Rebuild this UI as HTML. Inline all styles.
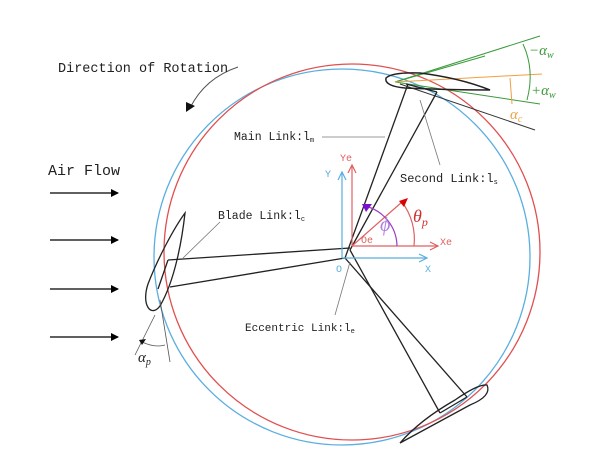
<!DOCTYPE html>
<html><head><meta charset="utf-8"><style>
html,body{margin:0;padding:0;background:#fff;width:607px;height:461px;overflow:hidden}
svg text{font-family:"Liberation Mono",monospace;fill:#222}
.g{font-family:"Liberation Serif",serif !important;font-style:italic}
</style></head><body>
<svg width="607" height="461" viewBox="0 0 607 461" xmlns="http://www.w3.org/2000/svg">
<defs>
<marker id="ab" markerWidth="8" markerHeight="8" refX="7" refY="4" orient="auto" markerUnits="userSpaceOnUse"><path d="M0,0 L8,4 L0,8z" fill="#000"/></marker>
</defs>
<circle cx="342" cy="257" r="188" fill="none" stroke="#5aaee0" stroke-width="1.3"/>
<circle cx="352" cy="252" r="188" fill="none" stroke="#e05050" stroke-width="1.3"/>
<path d="M238,67 Q205,78 190,108" fill="none" stroke="#555" stroke-width="1"/>
<path d="M186,112 L186,102 L195,106z" fill="#111"/>
<text x="58" y="72" style="font-size:13.5px">Direction of Rotation</text>
<text x="48" y="175" style="font-size:15px">Air Flow</text>
<g stroke="#000" stroke-width="1.2">
<line x1="50" y1="193" x2="118" y2="193" marker-end="url(#ab)"/>
<line x1="50" y1="240" x2="118" y2="240" marker-end="url(#ab)"/>
<line x1="50" y1="289" x2="118" y2="289" marker-end="url(#ab)"/>
<line x1="50" y1="337" x2="118" y2="337" marker-end="url(#ab)"/>
</g>
<g stroke-width="1">
<line x1="395" y1="82" x2="540" y2="36" stroke="#3a9a3a"/>
<line x1="395" y1="82" x2="540" y2="104" stroke="#3a9a3a"/>
<line x1="395" y1="82" x2="485" y2="56" stroke="#3a9a3a"/>
<line x1="395" y1="82" x2="542" y2="74" stroke="#f0a040"/>
<line x1="400" y1="84" x2="535" y2="130" stroke="#333"/>
<path d="M523,44 Q535,70 527,100" fill="none" stroke="#3a9a3a"/>
<path d="M510,78 L512,104" fill="none" stroke="#f0a040"/>
</g>
<text x="529" y="55" class="g" style="font-size:15px;fill:#3a9a3a">−α<tspan style="font-size:10px" dy="3">w</tspan></text>
<text x="531" y="95" class="g" style="font-size:15px;fill:#3a9a3a">+α<tspan style="font-size:10px" dy="3">w</tspan></text>
<text x="510" y="119" class="g" style="font-size:15px;fill:#f0a040">α<tspan style="font-size:10px" dy="3">c</tspan></text>
<path d="M386,78 Q392,72 420,73 Q460,78 490,90 Q450,90 405,88 Q384,86 386,78z" fill="none" stroke="#222" stroke-width="1.5"/>
<g stroke="#222" stroke-width="1.3" fill="none">
<line x1="408" y1="84" x2="345" y2="258"/>
<line x1="437" y1="92" x2="350" y2="250"/>
<line x1="406" y1="84" x2="437" y2="92"/>
<line x1="168" y1="260" x2="350" y2="248"/>
<line x1="170" y1="287" x2="345" y2="258"/>
<line x1="168" y1="260" x2="158" y2="289"/>
<path d="M185,213 C182,240 175,280 160,306 C151,318 141,305 148,284 C158,258 174,228 185,213z"/>
<line x1="345" y1="258" x2="467" y2="397"/>
<line x1="350" y1="250" x2="440" y2="413"/>
<line x1="440" y1="413" x2="467" y2="397"/>
<path d="M487,385 Q492,396 470,405 L400,443 Q420,420 455,400 Q478,384 487,385z"/>
</g>
<g stroke="#555" stroke-width="0.8" fill="none">
<line x1="155" y1="315" x2="135" y2="355"/>
<line x1="160" y1="300" x2="170" y2="362"/>
<path d="M142,342 Q155,348 165,345"/>
</g>
<path d="M139,340 L146,339 L142,345z" fill="#111"/>
<text x="138" y="362" class="g" style="font-size:15px">α<tspan style="font-size:10px" dy="3">p</tspan></text>
<g stroke="#5aaee0" stroke-width="1.2" fill="none">
<line x1="342" y1="258" x2="342" y2="172"/><path d="M338,180 L342,172 L346,180"/>
<line x1="342" y1="258" x2="427" y2="258"/><path d="M419,254 L427,258 L419,262"/>
</g>
<g stroke="#e06060" stroke-width="1.2" fill="none">
<line x1="352" y1="246" x2="352" y2="165"/><path d="M348,173 L352,165 L356,173"/>
<line x1="352" y1="246" x2="438" y2="246"/><path d="M430,242 L438,246 L430,250"/>
<line x1="352" y1="246" x2="402" y2="202"/>
<path d="M402,202 A62,62 0 0 1 414,246"/>
</g>
<path d="M399,201 L408,198 L404,207z" fill="#d00"/>
<path d="M365,206 A42,42 0 0 1 397,246" fill="none" stroke="#9a40c0" stroke-width="1.2"/>
<path d="M362,204 L372,204 L366,212z" fill="#7a10d0"/>
<text x="380" y="231" class="g" style="font-size:20px;fill:#b080e0">ϕ</text>
<text x="413" y="222" class="g" style="font-size:18px;fill:#d03030">θ<tspan style="font-size:12px" dy="4">p</tspan></text>
<text x="340" y="161" style="font-size:10px;fill:#e06060">Ye</text>
<text x="440" y="245" style="font-size:10px;fill:#e06060">Xe</text>
<text x="361" y="243" style="font-size:10px;fill:#e06060">Oe</text>
<text x="325" y="177" style="font-size:10px;fill:#5aaee0">Y</text>
<text x="425" y="272" style="font-size:10px;fill:#5aaee0">X</text>
<text x="336" y="272" style="font-size:10px;fill:#5aaee0">O</text>
<g stroke="#777" stroke-width="0.8">
<line x1="322" y1="137" x2="385" y2="137"/>
<line x1="420" y1="100" x2="440" y2="165"/>
<line x1="220" y1="222" x2="183" y2="258"/>
<line x1="350" y1="262" x2="335" y2="315"/>
</g>
<text x="234" y="140" style="font-size:11.5px">Main Link:l<tspan style="font-size:7px" dy="2">m</tspan></text>
<text x="400" y="182" style="font-size:12px">Second Link:l<tspan style="font-size:7px" dy="2">s</tspan></text>
<text x="218" y="219" style="font-size:11.5px">Blade Link:l<tspan style="font-size:7px" dy="2">c</tspan></text>
<text x="245" y="331" style="font-size:11px">Eccentric Link:l<tspan style="font-size:7px" dy="2">e</tspan></text>
</svg>
</body></html>
